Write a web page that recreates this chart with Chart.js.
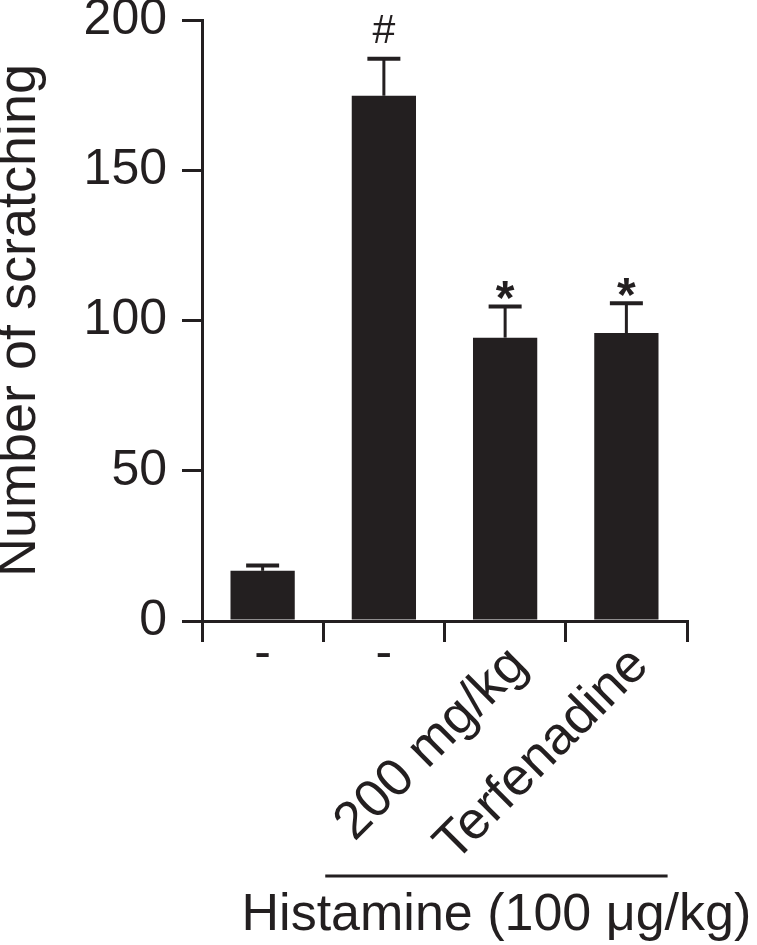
<!DOCTYPE html>
<html><head><meta charset="utf-8">
<script src="https://cdn.jsdelivr.net/npm/chart.js@4.4.1/dist/chart.umd.min.js"></script>
<style>html,body{margin:0;padding:0;background:#fff}canvas{display:block}</style>
</head><body>
<canvas id="c" width="757" height="945"></canvas>
<script>
const categories = ['-', '-', '200 mg/kg', 'Terfenadine'];
const meanValues = [16.7, 174.8, 94.3, 95.8];
const semValues = [1.8, 12.3, 10.4, 9.9];
const markers = ['', '#', '*', '*'];
const yTicks = [0, 50, 100, 150, 200];
const yTitle = 'Number of scratching';
const groupLabel = 'Histamine (100 \u03bcg/kg)';

const INK = '#231f20';
const FONT = "'Liberation Sans', Arial, Helvetica, sans-serif";

const annotate = {
  id: 'annotate',
  afterDatasetsDraw(chart) {
    const ctx = chart.ctx;
    const y = chart.scales.y;
    const x = chart.scales.x;
    const meta = chart.getDatasetMeta(0);
    ctx.save();
    ctx.strokeStyle = INK;
    ctx.fillStyle = INK;
    meta.data.forEach((bar, i) => {
      const yTop = bar.y;
      const yErr = y.getPixelForValue(meanValues[i] + semValues[i]);
      ctx.lineWidth = 3;
      ctx.beginPath();
      ctx.moveTo(bar.x, yTop);
      ctx.lineTo(bar.x, yErr);
      ctx.stroke();
      ctx.lineWidth = 4;
      ctx.beginPath();
      ctx.moveTo(bar.x - 16.5, yErr);
      ctx.lineTo(bar.x + 16.5, yErr);
      ctx.stroke();
      const m = markers[i];
      if (m) {
        ctx.textAlign = 'center';
        ctx.textBaseline = 'alphabetic';
        if (m === '#') {
          ctx.font = '41px ' + FONT;
          ctx.fillText(m, bar.x, yErr - 16);
        } else {
          ctx.font = 'bold 48px ' + FONT;
          ctx.fillText(m, bar.x, yErr + 8);
        }
      }
    });
    // group line and label under the treated categories
    const cw = x.getPixelForValue(1) - x.getPixelForValue(0);
    const lx0 = x.getPixelForValue(1) - cw / 2 + 2;
    const lx1 = x.getPixelForValue(3) + cw * 0.34;
    const ly = x.top + 255;
    ctx.lineWidth = 3;
    ctx.beginPath();
    ctx.moveTo(lx0, ly);
    ctx.lineTo(lx1, ly);
    ctx.stroke();
    ctx.font = '52px ' + FONT;
    ctx.textAlign = 'center';
    ctx.textBaseline = 'alphabetic';
    ctx.fillText(groupLabel, (lx0 + lx1) / 2, ly + 54);
    ctx.restore();
  }
};

new Chart(document.getElementById('c'), {
  type: 'bar',
  data: {
    labels: categories,
    datasets: [{
      data: meanValues,
      backgroundColor: INK,
      borderWidth: 0,
      categoryPercentage: 1,
      barPercentage: 0.53
    }]
  },
  options: {
    responsive: false,
    devicePixelRatio: 1,
    animation: false,
    layout: { padding: { top: 20, right: 70, left: 0, bottom: 0 } },
    plugins: { legend: { display: false }, tooltip: { enabled: false } },
    scales: {
      y: {
        min: 0, max: 200,
        afterBuildTicks: s => { s.ticks = yTicks.map(v => ({ value: v })); },
        afterFit: s => { s.width = 202; },
        border: { display: true, color: INK, width: 3 },
        grid: { drawOnChartArea: false, drawTicks: true, tickLength: 20, color: INK, lineWidth: 3 },
        ticks: { color: INK, padding: 15, font: { family: FONT, size: 50, lineHeight: 0.1 } },
        title: { display: true, text: yTitle, color: INK, padding: { top: 1, bottom: 0 },
                 font: { family: FONT, size: 54, lineHeight: 0.7 } }
      },
      x: {
        position: 'bottom',
        afterFit: s => { s.height = 324; },
        border: { display: true, color: INK, width: 3 },
        grid: { offset: true, drawOnChartArea: false, drawTicks: true, tickLength: 21, color: INK, lineWidth: 3 },
        ticks: {
          autoSkip: false, minRotation: 45, maxRotation: 45, padding: 0, labelOffset: 14, color: INK,
          font: { family: FONT, size: 53, lineHeight: 0.8 },
          callback: (v, i) => categories[i] === '-' ? '' : categories[i]
        }
      },
      xDash: {
        type: 'category',
        labels: categories,
        position: { y: 0 },
        offset: true,
        border: { display: false },
        grid: { display: false, drawTicks: false },
        ticks: {
          autoSkip: false, minRotation: 0, maxRotation: 0, padding: 20.5, color: INK,
          font: { family: FONT, size: 50, lineHeight: 0.5 },
          callback: (v, i) => categories[i] === '-' ? categories[i] : ''
        }
      }
    }
  },
  plugins: [annotate]
});
</script>
</body></html>
